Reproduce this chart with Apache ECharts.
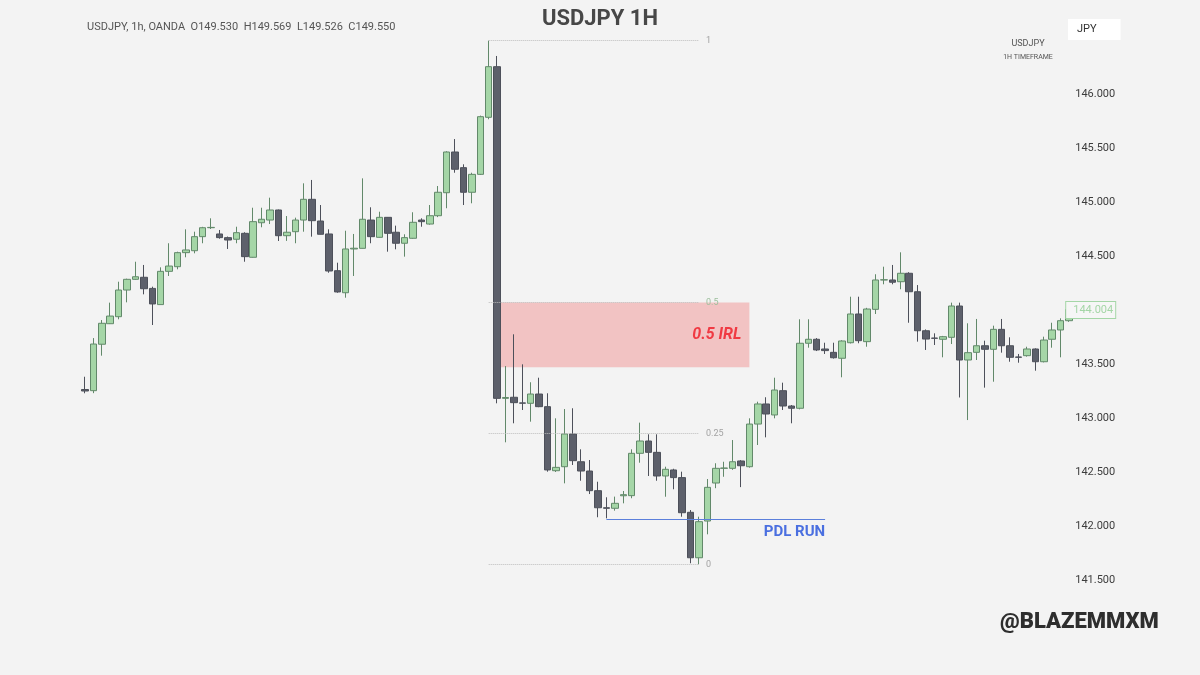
<!DOCTYPE html>
<html>
<head>
<meta charset="utf-8">
<title>USDJPY 1H</title>
<script src="https://cdn.jsdelivr.net/npm/echarts@6/dist/echarts.min.js"></script>
<style>
  html, body { margin: 0; padding: 0; background: #f3f3f3; }
  #chart { width: 1200px; height: 675px; }
</style>
</head>
<body>
<div id="chart"></div>
<script>
// hourly candles
const opens = [
  143.264, 143.253, 143.683, 143.873, 143.938, 144.185, 144.284, 144.303, 144.2, 144.05,
  144.358, 144.401, 144.531, 144.549, 144.679, 144.762, 144.704, 144.670, 144.655, 144.710,
  144.488, 144.808, 144.833, 144.926, 144.688, 144.725, 144.833, 145.025, 144.824, 144.704,
  144.364, 144.160, 144.565, 144.571, 144.833, 144.673, 144.858, 144.72, 144.618, 144.664,
  144.833, 144.796, 144.873, 145.086, 145.463, 145.318, 145.090, 145.256, 145.784, 146.253,
  143.182, 143.192, 143.14, 143.136, 143.222, 143.105, 142.512, 142.549, 142.852, 142.595,
  142.509, 142.327, 142.169, 142.164, 142.28, 142.281, 142.673, 142.787, 142.682, 142.463,
  142.519, 142.448, 142.127, 141.706, 142.046, 142.398, 142.534, 142.534, 142.602, 142.549,
  142.944, 143.130, 143.028, 143.253, 143.111, 143.09, 143.692, 143.729, 143.639, 143.608,
  143.553, 143.697, 143.963, 143.707, 144.006, 144.278, 144.278, 144.262, 144.340, 144.169,
  143.808, 143.74, 143.729, 143.747, 144.037, 143.537, 143.608, 143.669, 143.636, 143.821,
  143.669, 143.565, 143.577, 143.639, 143.521, 143.729, 143.815, 143.901
];
const closes = [
  143.25, 143.685, 143.877, 143.944, 144.185, 144.284, 144.308, 144.197, 144.056, 144.358,
  144.407, 144.531, 144.556, 144.679, 144.762, 144.765, 144.670, 144.648, 144.716, 144.494,
  144.818, 144.840, 144.926, 144.688, 144.72, 144.833, 145.025, 144.827, 144.701, 144.361,
  144.167, 144.565, 144.572, 144.840, 144.679, 144.858, 144.71, 144.618, 144.670, 144.812,
  144.818, 144.873, 145.09, 145.463, 145.303, 145.090, 145.256, 145.79, 146.253, 143.182,
  143.19, 143.142, 143.137, 143.222, 143.105, 142.519, 142.543, 142.852, 142.605, 142.509,
  142.327, 142.169, 142.164, 142.21, 142.29, 142.673, 142.787, 142.682, 142.463, 142.525,
  142.448, 142.123, 141.706, 142.04, 142.358, 142.534, 142.537, 142.595, 142.558, 142.944,
  143.130, 143.037, 143.259, 143.111, 143.09, 143.692, 143.729, 143.630, 143.624, 143.558,
  143.713, 143.963, 143.716, 144.009, 144.278, 144.28, 144.257, 144.340, 144.169, 143.808,
  143.731, 143.738, 143.753, 144.037, 143.537, 143.605, 143.669, 143.636, 143.821, 143.669,
  143.562, 143.562, 143.639, 143.521, 143.722, 143.815, 143.901, 144.004
];
const lows = [
  143.229, 143.23, 143.577, 143.87, 143.914, 144.071, 144.28, 144.145, 143.861, 144.05,
  144.315, 144.377, 144.488, 144.525, 144.618, 144.75, 144.66, 144.565, 144.618, 144.447,
  144.485, 144.766, 144.796, 144.639, 144.64, 144.618, 144.725, 144.679, 144.70, 144.345,
  144.16, 144.114, 144.315, 144.57, 144.618, 144.67, 144.54, 144.562, 144.494, 144.66,
  144.771, 144.79, 144.86, 144.942, 145.271, 144.972, 144.988, 145.25, 145.766, 143.136,
  142.775, 142.951, 143.074, 142.966, 143.10, 142.503, 142.50, 142.395, 142.565, 142.419,
  142.296, 142.081, 142.071, 142.142, 142.21, 142.257, 142.586, 142.463, 142.419, 142.271,
  142.34, 142.086, 141.655, 141.645, 141.923, 142.35, 142.456, 142.52, 142.36, 142.54,
  142.75, 142.821, 142.997, 143.074, 142.951, 143.08, 143.651, 143.62, 143.593, 143.55,
  143.377, 143.69, 143.692, 143.660, 143.963, 144.238, 144.238, 144.192, 143.882, 143.707,
  143.630, 143.676, 143.562, 143.685, 143.19, 142.981, 143.537, 143.281, 143.336, 143.605,
  143.521, 143.512, 143.568, 143.438, 143.515, 143.651, 143.562, 143.89
];
const highs = [
  143.382, 143.74, 143.907, 144.068, 144.262, 144.29, 144.447, 144.417, 144.216, 144.395,
  144.618, 144.54, 144.747, 144.725, 144.77, 144.849, 144.741, 144.68, 144.771, 144.72,
  144.947, 144.947, 145.04, 144.93, 144.87, 144.855, 145.173, 145.204, 144.972, 144.747,
  144.438, 144.734, 144.704, 145.219, 144.951, 144.91, 144.86, 144.781, 144.701, 144.905,
  144.849, 144.972, 145.148, 145.47, 145.583, 145.349, 145.271, 145.80, 146.494, 146.352,
  143.481, 143.775, 143.497, 143.331, 143.373, 143.229, 142.997, 143.083, 143.09, 142.710,
  142.611, 142.410, 142.266, 142.272, 142.324, 142.71, 142.957, 142.849, 142.849, 142.549,
  142.53, 142.503, 142.148, 142.086, 142.435, 142.581, 142.595, 142.796, 142.61, 142.997,
  143.151, 143.192, 143.373, 143.327, 143.12, 143.914, 143.914, 143.74, 143.697, 143.697,
  143.72, 144.123, 144.123, 144.02, 144.331, 144.401, 144.417, 144.534, 144.35, 144.231,
  143.82, 143.784, 143.76, 144.068, 144.068, 143.877, 143.917, 143.716, 143.855, 143.917,
  143.747, 143.593, 143.660, 143.645, 143.753, 143.882, 143.923, 144.03
];

const priceTicks = [141.5, 142, 142.5, 143, 143.5, 144.5, 145, 145.5, 146];
const fibLevels = [1, 0.5, 0.25, 0];
const fibStart = 48;   // swing high candle
const fibEnd = 73;     // swing low candle
const irlBottom = 143.47;
const irlRange = [49, 79];
const pdlLevel = 142.065;
const pdlRange = [62, 88];
const lastPrice = 144.004;

const hours = opens.map((_, i) => i);
const candles = opens.map((o, i) => [o, closes[i], lows[i], highs[i]]);

const fibHigh = highs[fibStart];
const fibLow = lows[fibEnd];
const fibValue = lvl => fibLow + lvl * (fibHigh - fibLow);

let markLines = fibLevels.map(lvl => [
  {
    coord: [fibStart, fibValue(lvl)],
    lineStyle: { color: '#bdbdbd', width: 1, type: 'dotted' },
    label: {
      show: true,
      position: 'end',
      distance: 7,
      formatter: String(lvl),
      color: lvl === 0.5 ? '#9cbf9c' : '#a3a3a3',
      fontSize: 9,
      fontFamily: 'Roboto'
    }
  },
  { coord: [fibEnd, fibValue(lvl)] }
]);
markLines.push([
  {
    coord: [pdlRange[0], pdlLevel],
    lineStyle: { color: '#5b7fdb', width: 1, type: 'solid' },
    label: {
      show: true,
      position: 'insideEndBottom',
      distance: [0, 6],
      formatter: 'PDL RUN',
      color: '#4a6fe0',
      fontSize: 15,
      fontWeight: 'bold',
      fontFamily: 'Roboto'
    }
  },
  { coord: [pdlRange[1], pdlLevel] }
]);
// last price tag on the right axis
markLines.push({
  yAxis: lastPrice,
  lineStyle: { color: 'rgba(0,0,0,0)', width: 1 },
  label: {
    show: true,
    position: 'end',
    distance: -7,
    formatter: lastPrice.toFixed(3),
    color: '#a5d6a7',
    fontSize: 11,
    fontFamily: 'Roboto',
    backgroundColor: '#f6f6f6',
    borderColor: '#a5d6a7',
    borderWidth: 1,
    padding: [3, 2, 2, 7]
  }
});

let myChart = echarts.init(document.getElementById('chart'));
myChart.setOption({
  backgroundColor: '#f3f3f3',
  animation: false,
  title: [
    {
      text: 'USDJPY 1H',
      left: 'center',
      top: 8,
      padding: 0,
      textStyle: { fontSize: 22, fontWeight: 'bold', color: '#474747', fontFamily: 'Roboto' }
    },
    {
      text: 'USDJPY, 1h, OANDA  O149.530  H149.569  L149.526  C149.550',
      left: 87,
      top: 22,
      padding: 0,
      textStyle: { fontSize: 11, fontWeight: 'normal', color: '#555', fontFamily: 'Roboto' }
    },
    {
      text: 'JPY',
      left: 1068,
      top: 19,
      padding: [5, 24, 5, 9],
      backgroundColor: '#ffffff',
      textStyle: { fontSize: 11, fontWeight: 'normal', color: '#333', fontFamily: 'Roboto' }
    },
    {
      text: 'USDJPY',
      left: 1028,
      top: 39,
      textAlign: 'center',
      padding: 0,
      textStyle: { fontSize: 9, fontWeight: 'normal', color: '#555', fontFamily: 'Roboto' }
    },
    {
      text: '1H TIMEFRAME',
      left: 1028,
      top: 54,
      textAlign: 'center',
      padding: 0,
      textStyle: { fontSize: 7, fontWeight: 'normal', color: '#555', fontFamily: 'Roboto' }
    },
    {
      text: '@BLAZEMMXM',
      left: 1000,
      top: 611,
      padding: 0,
      textStyle: { fontSize: 22, fontWeight: 900, color: '#2e2e2e', fontFamily: 'Roboto' }
    }
  ],
  grid: { left: 80.8, right: 126.8, top: 18.4, bottom: 62.6 },
  xAxis: {
    type: 'category',
    data: hours,
    axisLine: { show: false },
    axisTick: { show: false },
    axisLabel: { show: false },
    splitLine: { show: false }
  },
  yAxis: {
    type: 'value',
    position: 'right',
    min: 141.2,
    max: 146.7,
    axisLine: { show: false },
    axisTick: { show: false },
    splitLine: { show: false },
    axisLabel: {
      customValues: priceTicks,
      formatter: v => v.toFixed(3),
      color: '#3c3c3c',
      fontSize: 11,
      margin: 2,
      fontFamily: 'Roboto'
    }
  },
  series: [{
    type: 'candlestick',
    data: candles,
    barWidth: 7,
    itemStyle: {
      color: '#a5d6a7',
      color0: '#5d606b',
      borderColor: '#62896a',
      borderColor0: '#4d505a',
      borderColorDoji: '#6f6f6f',
      borderWidth: 1
    },
    markArea: {
      silent: true,
      itemStyle: { color: 'rgba(240,128,128,0.42)' },
      label: {
        show: true,
        position: 'insideRight',
        distance: 8,
        color: '#f03a43',
        fontSize: 16,
        fontWeight: 'bold',
        fontStyle: 'italic',
        fontFamily: 'Roboto'
      },
      data: [[
        { name: '0.5 IRL', xAxis: irlRange[0], yAxis: fibValue(0.5) },
        { xAxis: irlRange[1], yAxis: irlBottom }
      ]]
    },
    markLine: {
      silent: true,
      symbol: 'none',
      data: markLines
    }
  }]
});
</script>
</body>
</html>
